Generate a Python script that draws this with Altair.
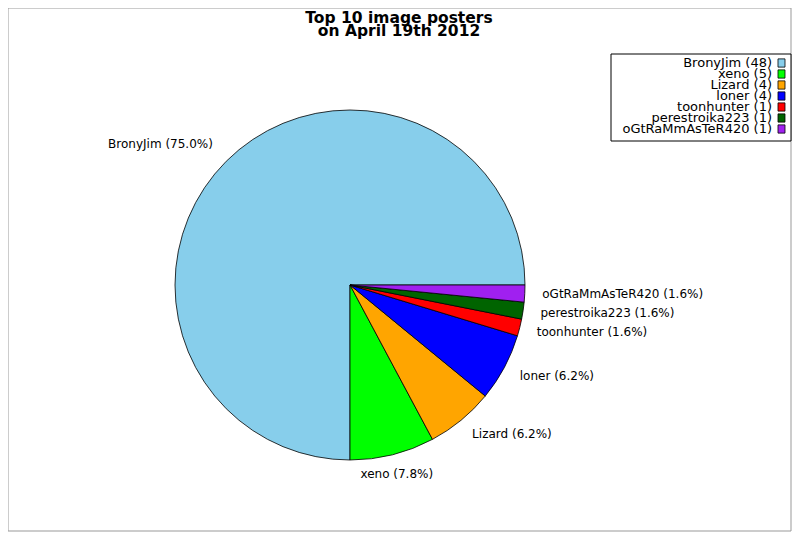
import math
import altair as alt
import pandas as pd

# ---- data ----
names = ["BronyJim", "xeno", "Lizard", "loner", "toonhunter", "perestroika223", "oGtRaMmAsTeR420"]
counts = [48, 5, 4, 4, 1, 1, 1]
pct_labels = ["75.0%", "7.8%", "6.2%", "6.2%", "1.6%", "1.6%", "1.6%"]
colors = ["#87CEEB", "#00FF00", "#FFA500", "#0000FF", "#FF0000", "#006400", "#A020F0"]
title_lines = ["Top 10 image posters", "on April 19th 2012"]
right_side = ["Lizard", "loner", "toonhunter", "perestroika223", "oGtRaMmAsTeR420"]

df = pd.DataFrame({"name": names, "count": counts, "pct": pct_labels, "ord": list(range(len(names)))})

W, H = 784, 524
CX, CY, R = 342, 277, 175
LR = 192.5
FONT = "DejaVu Sans"

color_enc = alt.Color("name:N", scale=alt.Scale(domain=names, range=colors), legend=None)
base = alt.Chart(df)
one = alt.Chart(pd.DataFrame({"k": [0]}))

frame = one.mark_rect(fillOpacity=0, stroke="#999999", strokeWidth=1).encode(
    x=alt.value(0), x2=alt.value(W - 1), y=alt.value(0), y2=alt.value(H - 1)
)

pie = base.mark_arc(radius=R, stroke="black", strokeWidth=0.8).encode(
    theta=alt.Theta("count:Q", stack=True,
                    scale=alt.Scale(range=[math.pi / 2, math.pi / 2 + 2 * math.pi])),
    order=alt.Order("ord:Q", sort="descending"),
    color=color_enc,
    x=alt.value(CX), y=alt.value(CY),
)

lab = base.transform_window(
    cum="sum(count)", sort=[alt.SortField("ord", order="descending")], frame=[None, 0]
).transform_joinaggregate(total="sum(count)").transform_calculate(
    tm="PI/2 + 2*PI*(datum.cum - datum.count/2)/datum.total",
    label="datum.name + ' (' + datum.pct + ')'",
)

def label_layer(filt, **kw):
    return lab.transform_filter(filt).mark_text(
        radius=LR, baseline="middle", fontSize=12, font=FONT, color="black", **kw
    ).encode(
        theta=alt.Theta("tm:Q", scale=None),
        text="label:N",
        x=alt.value(CX), y=alt.value(CY),
    )

right_labels = label_layer(alt.FieldOneOfPredicate(field="name", oneOf=right_side), align="left")
xeno_label = label_layer(alt.FieldEqualPredicate(field="name", equal="xeno"), align="center", dy=2)
brony_label = label_layer(alt.FieldEqualPredicate(field="name", equal="BronyJim"), align="right", dx=-1, dy=-5)

legbox = one.mark_rect(fill="white", stroke="black", strokeWidth=1).encode(
    x=alt.value(603), x2=alt.value(783), y=alt.value(46), y2=alt.value(133)
)

y_leg = alt.Y("name:N", sort=names, scale=alt.Scale(domain=names, range=[55, 121], padding=0), axis=None)

leg_text = base.transform_calculate(
    leg="datum.name + ' (' + datum.count + ')'"
).mark_text(align="right", baseline="middle", fontSize=13, font=FONT, color="black").encode(
    x=alt.value(764), y=y_leg, text="leg:N"
)

leg_sq = base.mark_point(
    shape="M-0.85,-1L0.85,-1L0.85,1L-0.85,1Z", filled=True, size=68,
    stroke="black", strokeWidth=0.8, opacity=1,
).encode(x=alt.value(773.5), y=y_leg, fill=color_enc)

title1 = one.mark_text(fontSize=15.5, fontWeight="bold", font=FONT, align="center",
                       baseline="alphabetic", color="black").encode(
    x=alt.value(391), y=alt.value(14.5), text=alt.value(title_lines[0]))
title2 = one.mark_text(fontSize=15.5, fontWeight="bold", font=FONT, align="center",
                       baseline="alphabetic", color="black").encode(
    x=alt.value(391), y=alt.value(28), text=alt.value(title_lines[1]))

chart = alt.layer(
    frame, pie, right_labels, xeno_label, brony_label, legbox, leg_text, leg_sq, title1, title2
).properties(
    width=W, height=H, padding=0, autosize="none", background="white"
).configure_view(stroke=None)

chart.save("out.html", embed_options={"renderer": "svg", "actions": False})
